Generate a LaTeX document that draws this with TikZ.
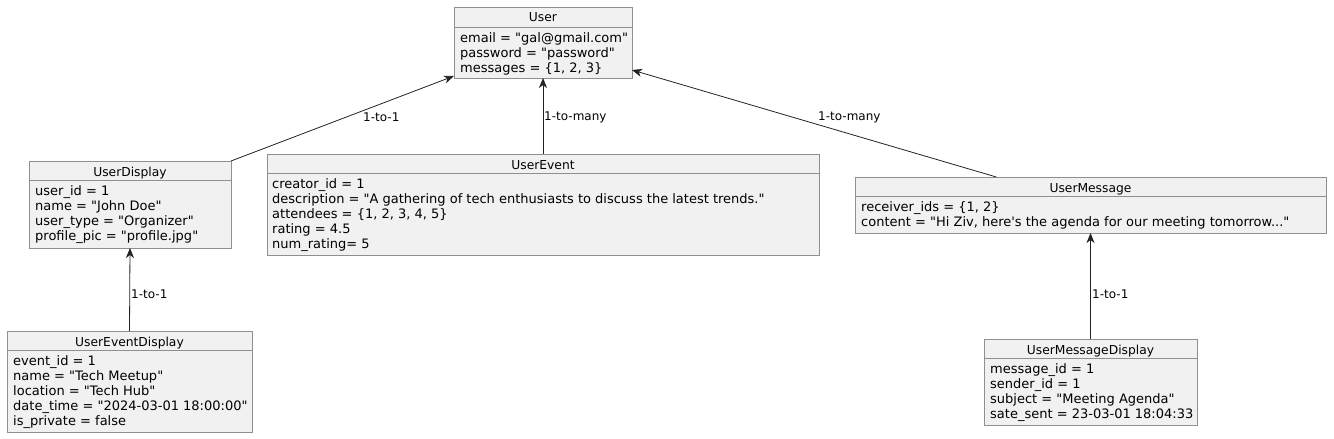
\documentclass[tikz,border=0pt]{standalone}
\usepackage{fontspec}
\setmainfont{DejaVu Sans}
\usetikzlibrary{arrows.meta,calc}
\newcommand{\qd}{\textquotedbl}
\definecolor{objfill}{HTML}{F1F1F1}
\definecolor{objdraw}{HTML}{8F8F8F}
\definecolor{edgecol}{HTML}{222222}
\tikzset{
  objbox/.style={draw=objdraw, fill=objfill, line width=0.9pt, anchor=north west, inner sep=0pt, outer sep=0pt},
  objsep/.style={draw=objdraw, line width=0.9pt},
  objtitle/.style={font=\fontsize{12.3}{14}\selectfont, anchor=base, inner sep=0pt},
  objbody/.style={font=\fontsize{13}{15.2}\selectfont, align=left, anchor=north west, inner sep=0pt},
  rel/.style={draw=edgecol, line width=0.8pt, -{Stealth[length=10pt,width=8pt,inset=3pt]}},
  rellabel/.style={font=\fontsize{12}{14}\selectfont, inner sep=0pt, anchor=west}
}
\begin{document}
\begin{tikzpicture}[x=1pt,y=-1pt]
\useasboundingbox (0,0) rectangle (1334,439);

% User
\node[objbox, minimum width=178pt, minimum height=71pt] (user) at (454,7) {};
\node[objtitle] (usert) at (543,21.5) {User};
\draw[objsep] ($(user.north west)+(0,20)$) -- ($(user.north east)+(0,20)$);
\node[objbody] (userb) at (460,32) {email = \qd gal@gmail.com\qd\\password = \qd password\qd\\messages = \{1, 2, 3\}};

% UserDisplay
\node[objbox, minimum width=202pt, minimum height=87pt] (ud) at (29,161) {};
\node[objtitle] (udt) at (130,176) {UserDisplay};
\draw[objsep] ($(ud.north west)+(0,19)$) -- ($(ud.north east)+(0,19)$);
\node[objbody] (udb) at (35,185) {user\_id = 1\\name = \qd John Doe\qd\\user\_type = \qd Organizer\qd\\profile\_pic = \qd profile.jpg\qd};

% UserEvent
\node[objbox, minimum width=552pt, minimum height=101pt] (ue) at (267,154) {};
\node[objtitle] (uet) at (543,169) {UserEvent};
\draw[objsep] ($(ue.north west)+(0,19)$) -- ($(ue.north east)+(0,19)$);
\node[objbody] (ueb) at (272,178) {creator\_id = 1\\description = \qd A gathering of tech enthusiasts to discuss the latest trends.\qd\\attendees = \{1, 2, 3, 4, 5\}\\rating = 4.5\\num\_rating= 5};

% UserMessage
\node[objbox, minimum width=471pt, minimum height=56pt] (um) at (855,177) {};
\node[objtitle] (umt) at (1090.5,192) {UserMessage};
\draw[objsep] ($(um.north west)+(0,19)$) -- ($(um.north east)+(0,19)$);
\node[objbody] (umb) at (861,201) {receiver\_ids = \{1, 2\}\\content = \qd Hi Ziv, here\textquotesingle s the agenda for our meeting tomorrow...\qd};

% UserEventDisplay
\node[objbox, minimum width=245pt, minimum height=101pt] (ued) at (7,331) {};
\node[objtitle] (uedt) at (129.5,346) {UserEventDisplay};
\draw[objsep] ($(ued.north west)+(0,19)$) -- ($(ued.north east)+(0,19)$);
\node[objbody] (uedb) at (13,355) {event\_id = 1\\name = \qd Tech Meetup\qd\\location = \qd Tech Hub\qd\\date\_time = \qd 2024-03-01 18:00:00\qd\\is\_private = false};

% UserMessageDisplay
\node[objbox, minimum width=213pt, minimum height=86pt] (umd) at (984,339) {};
\node[objtitle] (umdt) at (1090.5,354) {UserMessageDisplay};
\draw[objsep] ($(umd.north west)+(0,19)$) -- ($(umd.north east)+(0,19)$);
\node[objbody] (umdb) at (990,363) {message\_id = 1\\sender\_id = 1\\subject = \qd Meeting Agenda\qd\\sate\_sent = 23-03-01 18:04:33};

% Relations
\coordinate (umtop) at ($(um.north west)!0.3!(um.north east)$);
\draw[rel] (ud.north east) -- ($(user.south west)+(0,-2)$);
\draw[rel] (ue.north) -- (user.south);
\draw[rel] (umtop) -- ($(user.south east)+(0,-8)$);
\draw[rel] (ued.north) -- (ud.south);
\draw[rel] (umd.north) -- (um.south);

\node[rellabel] (l1) at (363,117) {1-to-1};
\node[rellabel] (l2) at (544,117) {1-to-many};
\node[rellabel] (l3) at (818,117) {1-to-many};
\node[rellabel] (l4) at (131,294) {1-to-1};
\node[rellabel] (l5) at (1092,294) {1-to-1};
\end{tikzpicture}
\end{document}
